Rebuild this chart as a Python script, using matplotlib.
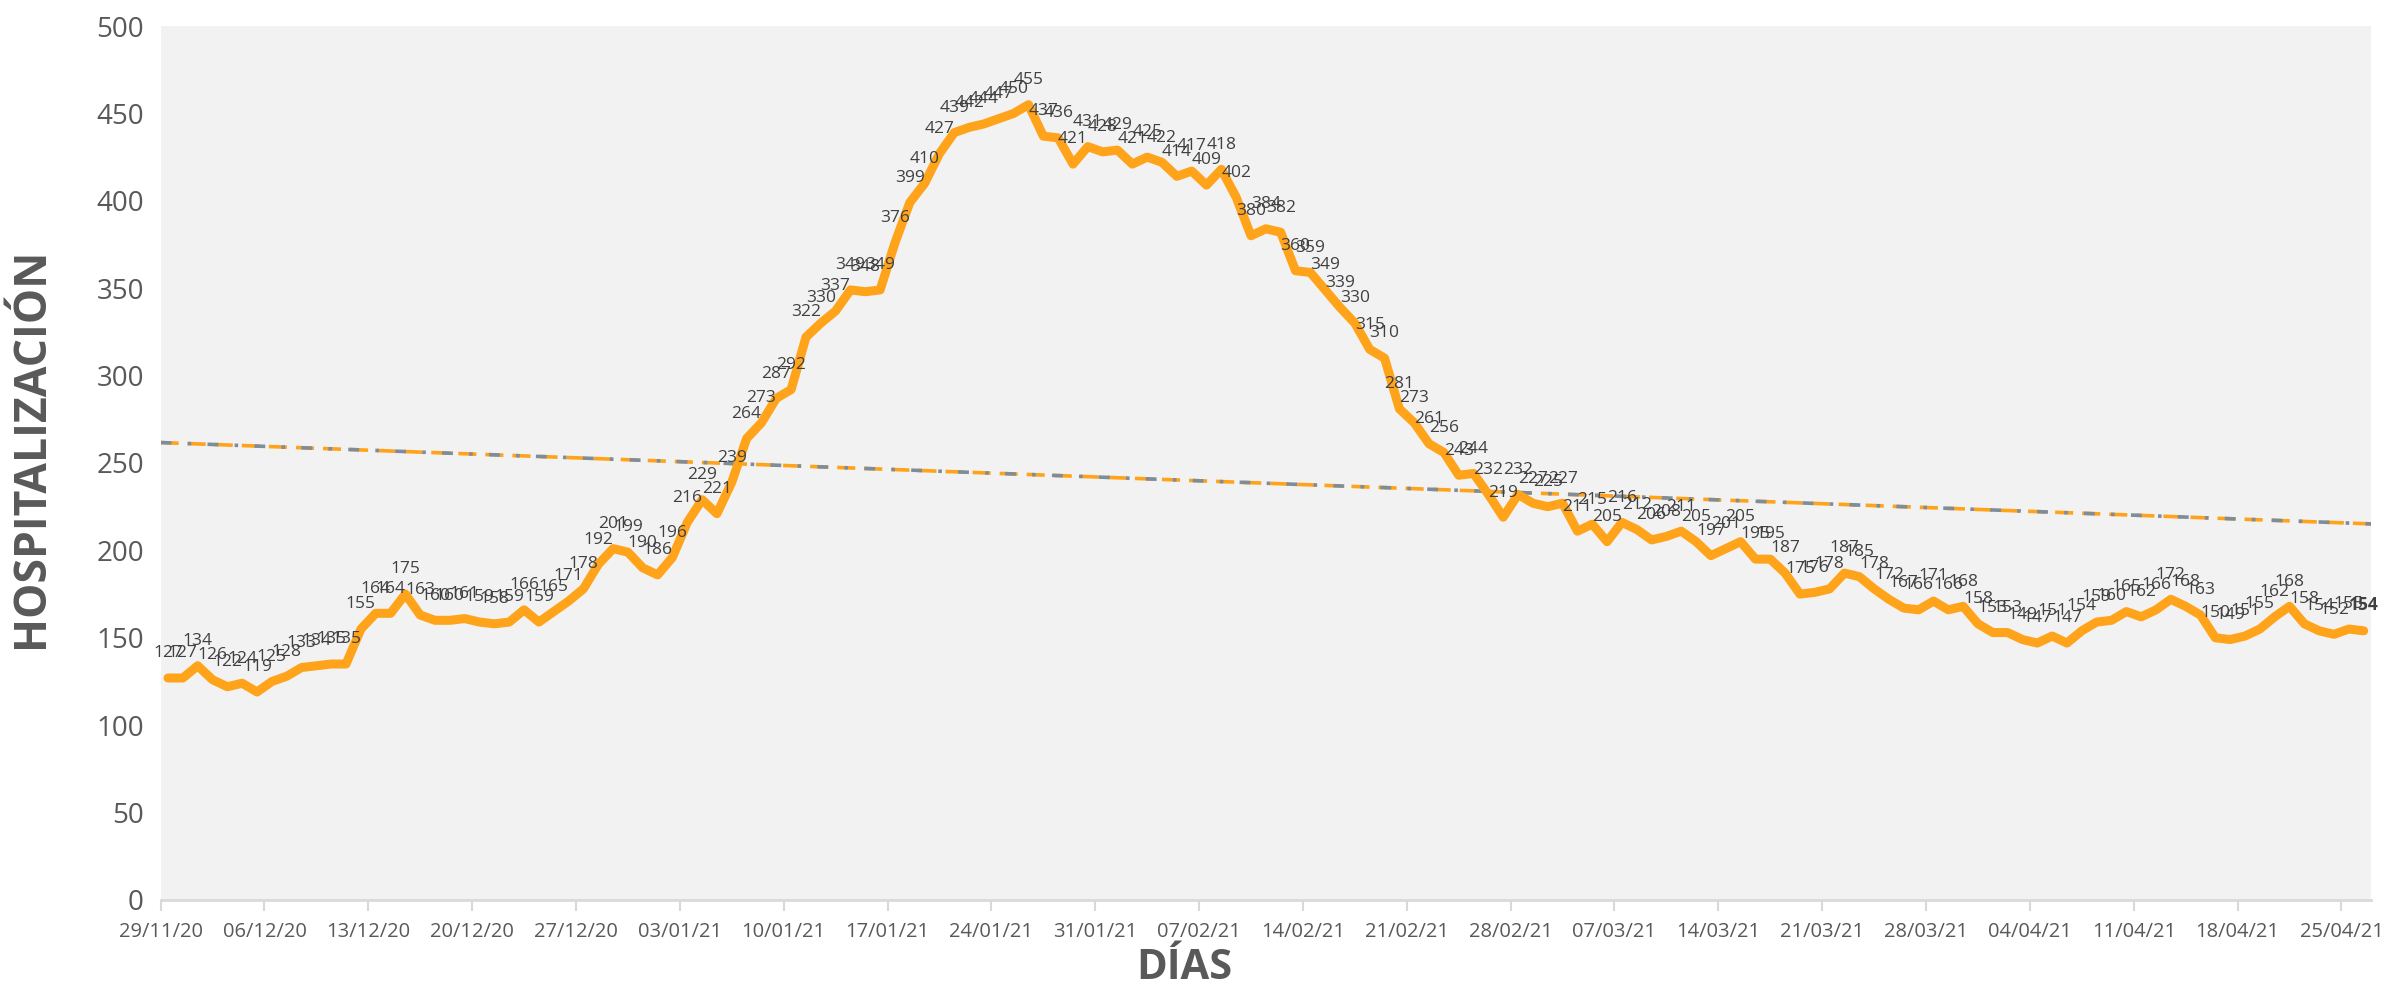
import numpy as np
import pandas as pd
import matplotlib
matplotlib.use('Agg')
from matplotlib import pyplot as plt

# hospitalizados por dia, desde 29/11/20
start_date = '2020-11-29'
hosp = [127, 127, 134, 126, 122, 124, 119, 125, 128, 133,
        134, 135, 135, 155, 164, 164, 175, 163, 160, 160,
        161, 159, 158, 159, 166, 159, 165, 171, 178, 192,
        201, 199, 190, 186, 196, 216, 229, 221, 239, 264,
        273, 287, 292, 322, 330, 337, 349, 348, 349, 376,
        399, 410, 427, 439, 442, 444, 447, 450, 455, 437,
        436, 421, 431, 428, 429, 421, 425, 422, 414, 417,
        409, 418, 402, 380, 384, 382, 360, 359, 349, 339,
        330, 315, 310, 281, 273, 261, 256, 243, 244, 232,
        219, 232, 227, 225, 227, 211, 215, 205, 216, 212,
        206, 208, 211, 205, 197, 201, 205, 195, 195, 187,
        175, 176, 178, 187, 185, 178, 172, 167, 166, 171,
        166, 168, 158, 153, 153, 149, 147, 151, 147, 154,
        159, 160, 165, 162, 166, 172, 168, 163, 150, 149,
        151, 155, 162, 168, 158, 154, 152, 155, 154]
y_ticks = [0, 50, 100, 150, 200, 250, 300, 350, 400, 450, 500]

plt.rcParams['font.family'] = ['Open Sans', 'DejaVu Sans']

n = len(hosp)
x = np.arange(n)
fechas = pd.date_range(start_date, periods=n, freq='D')

fig = plt.figure(figsize=(23.97, 9.85), dpi=100)
ax = fig.add_axes([0.067, 0.0863, 0.9222, 0.8873])
ax.set_facecolor('#F2F2F2')

# linea de tendencia (ajuste lineal)
coef = np.polyfit(x, hosp, 1)
xt = np.array([-0.5, n - 0.5])
yt = np.polyval(coef, xt)
ax.plot(xt, yt, color='#FFA31A', lw=2.6, dashes=(5, 2.5), zorder=2)
ax.plot(xt, yt, color='#7F8C99', lw=2.6, dashes=(3, 4.5, 1, 4.5), zorder=2)

ax.plot(x, hosp, color='#FFA31A', lw=6.5, solid_joinstyle='round',
        solid_capstyle='round', zorder=3)

for i, v in enumerate(hosp):
    ax.annotate(str(v), (x[i], v), xytext=(0, 12), textcoords='offset points',
                ha='center', va='bottom', fontsize=12.5, color='#404040',
                fontweight='bold' if i == n - 1 else 'normal', zorder=4)

ax.set_xlim(-0.5, n - 0.5)
ax.set_ylim(0, 500)
ax.set_yticks(y_ticks)
ax.tick_params(axis='y', length=0, labelsize=20, labelcolor='#595959', pad=12)

tick_pos = np.arange(0, n, 7)
ax.set_xticks(tick_pos - 0.5)
ax.set_xticklabels([fechas[i].strftime('%d/%m/%y') for i in tick_pos])
ax.tick_params(axis='x', length=8, width=1.5, color='#D9D9D9',
               labelsize=14.5, labelcolor='#595959', pad=8)

for s in ['top', 'right', 'left']:
    ax.spines[s].set_visible(False)
ax.spines['bottom'].set_color('#D9D9D9')
ax.spines['bottom'].set_linewidth(2)

fig.text(0.013, 0.545, 'HOSPITALIZACIÓN', rotation=90, ha='center', va='center',
         fontsize=32, fontweight='bold', color='#595959')
fig.text(0.494, 0.017, 'DÍAS', ha='center', va='center',
         fontsize=30, fontweight='bold', color='#595959')

fig.savefig('out.png', dpi=100, facecolor='white')
